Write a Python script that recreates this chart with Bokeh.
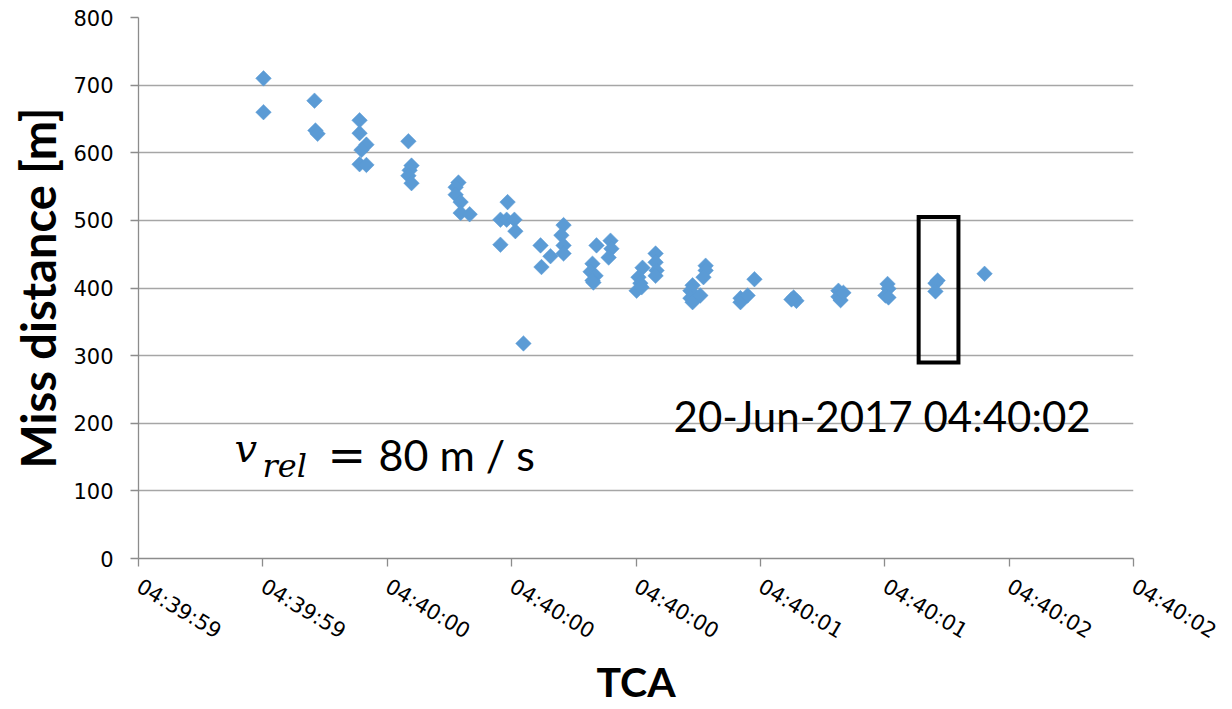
import math
from bokeh.plotting import figure
from bokeh.models import FixedTicker, Label, Range1d
from bokeh.embed import file_html
from bokeh.resources import INLINE

# TCA in seconds after 04:39:00 (20-Jun-2017), miss distance in metres
tca_s = [
    59.202, 59.202,
    59.366, 59.369, 59.376,
    59.511, 59.511, 59.533, 59.517, 59.511, 59.533,
    59.668, 59.678, 59.672, 59.668, 59.678,
    59.829, 59.820, 59.820, 59.836, 59.836, 59.865,
    59.987, 59.964, 59.984, 60.009, 60.012, 59.964,
    60.038,
    60.093, 60.125, 60.096,
    60.167, 60.160, 60.167, 60.167,
    60.273, 60.260, 60.254, 60.270, 60.260, 60.263,
    60.318, 60.321, 60.312,
    60.421, 60.408, 60.414, 60.402, 60.418,
    60.463, 60.463, 60.466, 60.463,
    60.582, 60.575, 60.575, 60.582,
    60.624, 60.624, 60.617, 60.607,
    60.736, 60.736, 60.759, 60.781,
    60.907, 60.916, 60.900,
    61.051, 61.051, 61.058, 61.067,
    61.209, 61.212, 61.202, 61.212,
    61.370, 61.363, 61.363,
    61.521,
]
miss_m = [
    710, 660,
    677, 633, 628,
    648, 629, 612, 604, 583, 582,
    617, 581, 574, 566, 555,
    556, 549, 538, 527, 511, 509,
    527, 501, 501, 501, 484, 464,
    318,
    463, 447, 431,
    493, 478, 463, 451,
    463, 436, 424, 418, 411, 408,
    470, 458, 445,
    430, 416, 407, 396, 401,
    451, 438, 426, 418,
    404, 396, 385, 379,
    433, 426, 416, 389,
    385, 379, 389, 413,
    386, 381, 383,
    396, 387, 382, 393,
    406, 399, 389, 386,
    411, 407, 395,
    421,
]

tick_vals = [58.8, 59.2, 59.6, 60.0, 60.4, 60.8, 61.2, 61.6, 62.0]
tick_labels = ["04:39:59", "04:39:59", "04:40:00", "04:40:00", "04:40:00",
               "04:40:01", "04:40:01", "04:40:02", "04:40:02"]
y_ticks = [0, 100, 200, 300, 400, 500, 600, 700, 800]

box_tca = (61.309, 61.437)
box_miss = (290, 505)

date_text = "20-Jun-2017 04:40:02"
vrel_main = "v"
vrel_sub = "rel"
vrel_eq = "="
vrel_rest = "80 m / s"

p = figure(width=1232, height=709, output_backend="svg", toolbar_location=None,
           x_range=Range1d(58.8, 62.0), y_range=Range1d(0, 800),
           min_border_left=138, min_border_right=99, min_border_top=17,
           min_border_bottom=151)
p.outline_line_color = None
p.background_fill_color = "white"
p.border_fill_color = "white"

# grid
p.xgrid.grid_line_color = None
p.ygrid.grid_line_color = "#A6A6A6"
p.ygrid.grid_line_width = 1.3
p.ygrid.ticker = FixedTicker(ticks=y_ticks)

# axes
p.yaxis.ticker = FixedTicker(ticks=y_ticks)
p.xaxis.ticker = FixedTicker(ticks=tick_vals)
p.xaxis.major_label_overrides = {v: l for v, l in zip(tick_vals, tick_labels)}
for ax in (p.xaxis[0], p.yaxis[0]):
    ax.axis_line_color = "#8C8C8C"
    ax.axis_line_width = 1.3
    ax.major_tick_line_color = "#8C8C8C"
    ax.major_tick_line_width = 1.3
    ax.major_tick_out = 8
    ax.major_tick_in = 0
    ax.minor_tick_line_color = None
    ax.major_label_text_font = "DejaVu Sans"
    ax.major_label_text_font_size = "21px"
    ax.major_label_text_color = "black"
    ax.axis_label_text_font = "Lato"
    ax.axis_label_text_font_style = "bold"
    ax.axis_label_text_color = "black"

p.xaxis.major_label_orientation = -0.54
p.xaxis.major_label_standoff = 18
p.xaxis.axis_label = "TCA"
p.xaxis.axis_label_text_font_size = "41px"
p.xaxis.axis_label_standoff = 0
p.yaxis.major_label_standoff = 17
p.yaxis.axis_label = "Miss distance [m]"
p.yaxis.axis_label_text_font_size = "47px"
p.yaxis.axis_label_standoff = 4

p.scatter(tca_s, miss_m, marker="square", size=11, angle=math.pi / 4,
          fill_color="#5B9BD5", line_color="#5B9BD5", line_width=0.5)

p.quad(left=[box_tca[0]], right=[box_tca[1]], bottom=[box_miss[0]], top=[box_miss[1]],
       fill_alpha=0, line_color="black", line_width=4, line_join="miter")

p.add_layout(Label(x=60.521, y=210, text=date_text, text_font="Lato",
                   text_font_size="42px", text_baseline="alphabetic", text_color="black"))
p.add_layout(Label(x=59.109, y=163, text=vrel_main, text_font="DejaVu Serif",
                   text_font_style="italic", text_font_size="40px",
                   text_baseline="alphabetic", text_color="black"))
p.add_layout(Label(x=59.199, y=137, text=vrel_sub, text_font="DejaVu Serif",
                   text_font_style="italic", text_font_size="32px",
                   text_baseline="alphabetic", text_color="black"))
p.add_layout(Label(x=59.408, y=153.6, text=vrel_eq, text_font="DejaVu Serif",
                   text_font_size="46px", text_baseline="alphabetic", text_color="black"))
p.add_layout(Label(x=59.572, y=153.6, text=vrel_rest, text_font="Lato",
                   text_font_size="43px", text_baseline="alphabetic", text_color="black"))

open("out.html", "w").write(file_html(p, INLINE))
